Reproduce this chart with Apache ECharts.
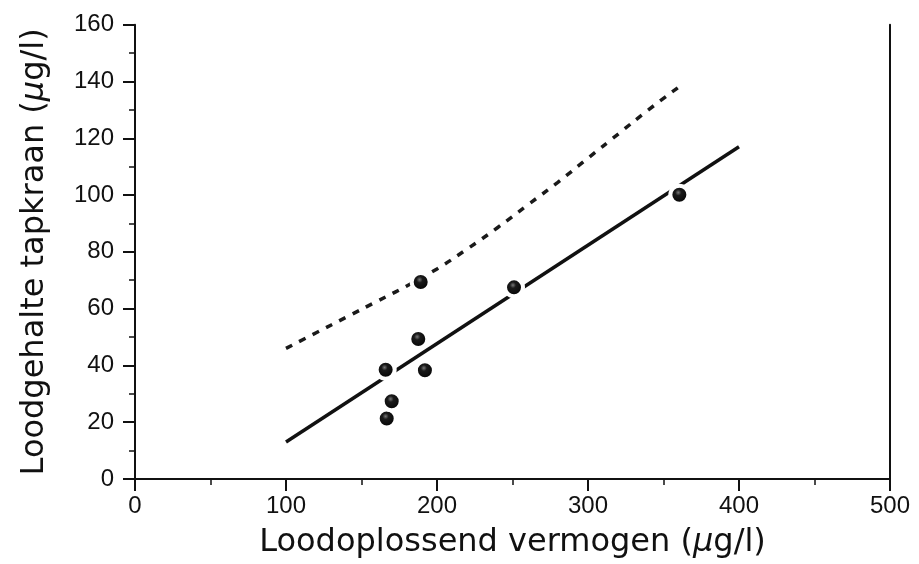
<!DOCTYPE html>
<html>
<head>
<meta charset="utf-8">
<script src="https://cdn.jsdelivr.net/npm/echarts@6/dist/echarts.min.js"></script>
<style>
  html, body { margin: 0; padding: 0; background: #fff; }
  #chart { width: 919px; height: 564px; }
</style>
</head>
<body>
<div id="chart"></div>
<script>
// Measured samples: lead-dissolving capacity vs. lead content at the tap
const capacity = [166, 166.7, 170, 187.6, 189.2, 192, 251, 360.5];
const tapLead  = [38.5, 21.3, 27.4, 49.3, 69.4, 38.3, 67.5, 100.1];

// Fitted regression line (end points)
const fitX = [100, 400];
const fitY = [13, 117];

// Upper band (dashed curve)
const bandX = [100, 120, 140, 160, 180, 200, 220, 240, 260, 280, 300, 320, 340, 360];
const bandY = [46, 51.5, 57, 62.5, 68, 74, 81, 88.5, 96.5, 104.5, 113, 121.5, 130, 138];

const ink = '#111';
const fontFamily = '"DejaVu Sans", sans-serif';
const tickFont = '"Liberation Sans", sans-serif';

const chart = echarts.init(document.getElementById('chart'));

const pairs = (xs, ys) => xs.map((x, i) => [x, ys[i]]);

const nameStyle = {
  color: ink, fontSize: 32, fontFamily: fontFamily,
  rich: { m: { fontSize: 32, fontStyle: 'italic', color: ink, fontFamily: fontFamily } }
};

chart.setOption({
  animation: false,
  backgroundColor: '#fff',
  grid: { left: 135, right: 29, top: 24.7, bottom: 84.5 },
  xAxis: {
    type: 'value',
    min: 0, max: 500, interval: 100,
    name: 'Loodoplossend vermogen ({m|μ}g/l)',
    nameLocation: 'middle',
    nameGap: 48,
    nameTextStyle: nameStyle,
    axisLine: { show: true, lineStyle: { color: ink, width: 2 } },
    axisTick: { show: true, length: 12, lineStyle: { color: ink, width: 2 } },
    minorTick: { show: true, splitNumber: 2, length: 6, lineStyle: { color: ink, width: 1.5 } },
    axisLabel: { color: ink, fontSize: 24, fontFamily: tickFont, margin: 15 },
    splitLine: { show: false }
  },
  yAxis: [{
    type: 'value',
    min: 0, max: 160, interval: 20,
    name: 'Loodgehalte tapkraan ({m|μ}g/l)',
    nameLocation: 'middle',
    nameGap: 84,
    nameRotate: 90,
    nameTextStyle: nameStyle,
    axisLine: { show: true, lineStyle: { color: ink, width: 2 } },
    axisTick: { show: true, length: 12, lineStyle: { color: ink, width: 2 } },
    minorTick: { show: true, splitNumber: 2, length: 6, lineStyle: { color: ink, width: 1.5 } },
    axisLabel: { color: ink, fontSize: 24, fontFamily: tickFont, margin: 21 },
    splitLine: { show: false }
  }, {
    type: 'value',
    position: 'right',
    min: 0, max: 160, interval: 20,
    axisLine: { show: true, lineStyle: { color: ink, width: 2 } },
    axisTick: { show: false },
    axisLabel: { show: false },
    splitLine: { show: false }
  }],
  series: [
    {
      type: 'line',
      data: pairs(bandX, bandY),
      smooth: true,
      showSymbol: false,
      lineStyle: { color: '#1a1a1a', width: 3.5, type: [7, 8] },
      z: 2
    },
    {
      type: 'line',
      data: pairs(fitX, fitY),
      showSymbol: false,
      lineStyle: { color: ink, width: 3.5 },
      z: 2
    },
    {
      type: 'scatter',
      data: pairs(capacity, tapLead),
      symbol: 'circle',
      symbolSize: 18,
      itemStyle: {
        opacity: 1,
        color: {
          type: 'radial', x: 0.45, y: 0.4, r: 0.55,
          colorStops: [
            { offset: 0, color: '#777' },
            { offset: 0.25, color: '#1a1a1a' },
            { offset: 1, color: '#000' }
          ]
        },
        borderColor: '#fff',
        borderWidth: 4
      },
      z: 5
    }
  ]
});
</script>
</body>
</html>
